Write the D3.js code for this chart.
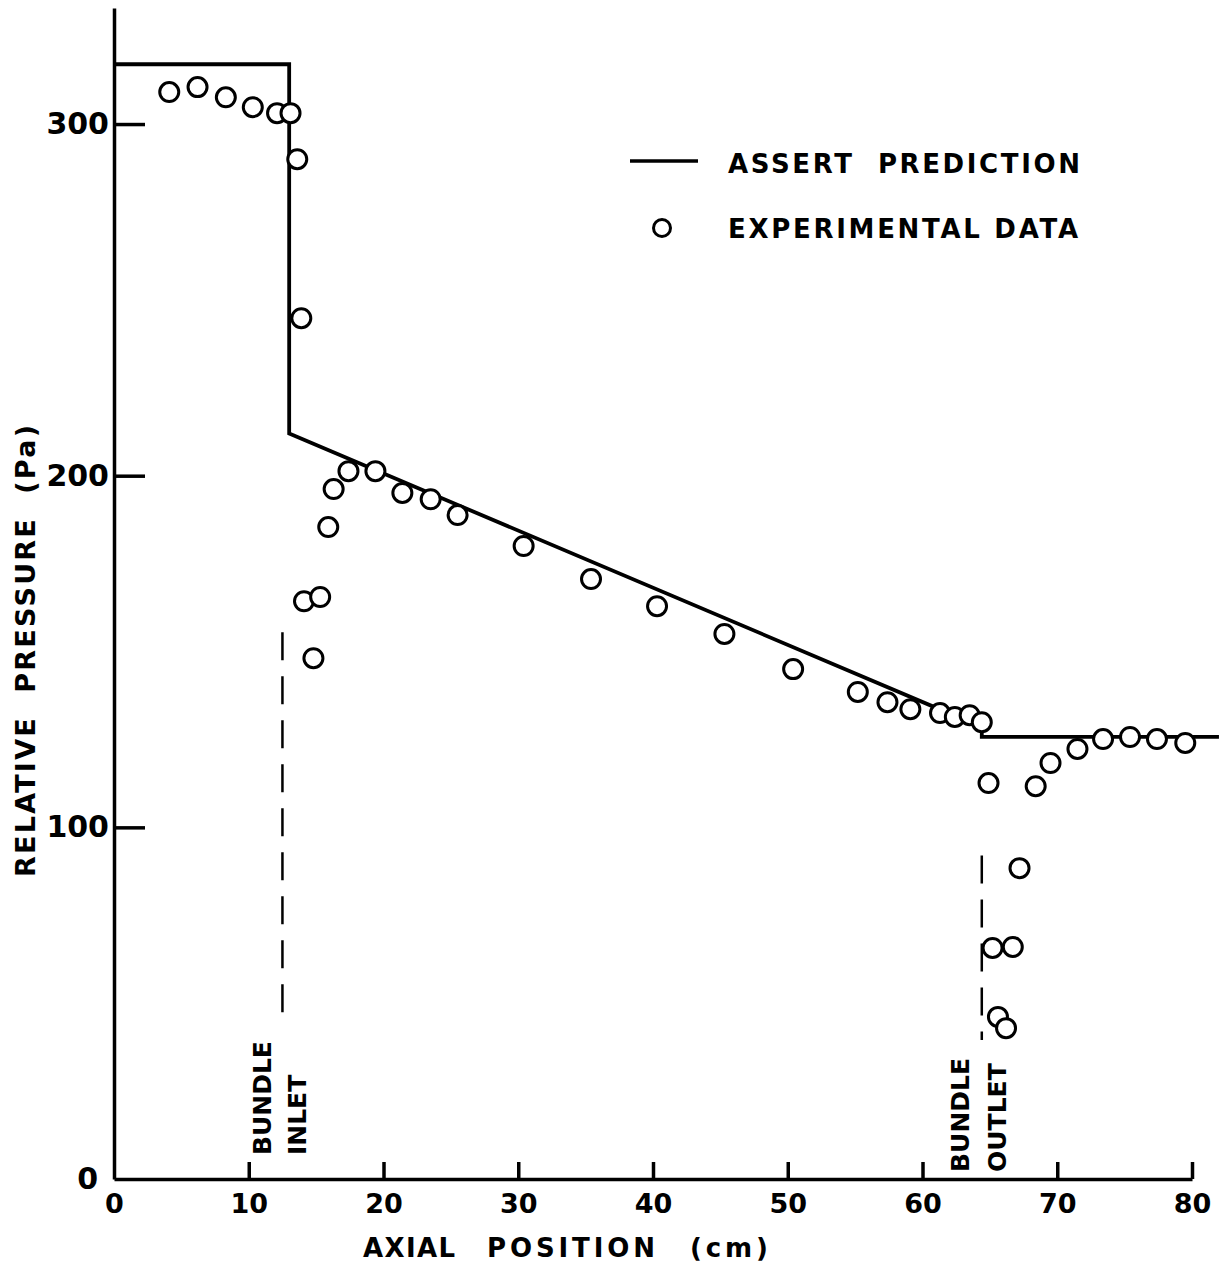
<!DOCTYPE html>
<html>
<head>
<meta charset="utf-8">
<script src="https://cdn.jsdelivr.net/npm/d3@7"></script>
<style>
  body { margin: 0; background: #fff; }
  text { font-family: "DejaVu Sans", sans-serif; font-weight: bold; fill: #000; }
</style>
</head>
<body>
<div id="chart"></div>
<script>
// ASSERT prediction (cm, Pa)
const predX = [0, 13, 13, 64.4, 64.4, 82]
const predY = [317, 317, 212, 128.5, 125.7, 125.7]

// experimental data (cm, Pa)
const expX = [4.1, 6.2, 8.3, 10.3, 12.1, 13.1, 13.6, 13.9,
  14.1, 14.8, 15.3, 15.9, 16.3, 17.4, 19.4, 21.4, 23.5, 25.5,
  30.4, 35.4, 40.3, 45.3, 50.4, 55.2, 57.4, 59.1, 61.3, 62.4, 63.5, 64.4,
  64.9, 65.2, 65.6, 66.2, 66.7, 67.2, 68.4, 69.5, 71.5, 73.4, 75.4, 77.4, 79.5]
const expY = [309.1, 310.5, 307.6, 304.8, 303.1, 303.1, 290.0, 244.8,
  164.3, 148.1, 165.5, 185.4, 196.2, 201.3, 201.3, 195.1, 193.3, 188.8,
  180.0, 170.6, 162.9, 155.0, 145.0, 138.5, 135.6, 133.6, 132.5, 131.4, 131.9, 129.9,
  112.6, 65.7, 46.1, 42.9, 66.0, 88.4, 111.7, 118.3, 122.3, 125.1, 125.7, 125.1, 124.0]

const xTicks = [0, 10, 20, 30, 40, 50, 60, 70, 80]
const yTicks = [0, 100, 200, 300]

// bundle inlet / outlet markers
const markX = [12.5, 64.4]
const markTop = [155.5, 92]
const markBottom = [43.2, 39.5]
const markLabels = [["BUNDLE", "INLET"], ["BUNDLE", "OUTLET"]]
const markLabelX = [[11.0, 13.6], [62.8, 65.5]]
const markLabelY = [6.8, 2]

const width = 1229, height = 1267

const svg = d3.select("#chart")
  .append("svg")
    .attr("width", width)
    .attr("height", height)

const x = d3.scaleLinear().domain([0, 80]).range([114, 1192])
const y = d3.scaleLinear().domain([0, 333]).range([1179, 8])

// x axis, ticks point up
const gx = svg.append("g")
  .attr("transform", `translate(0, ${y(0)})`)
  .call(d3.axisBottom(x).tickValues(xTicks).tickSizeInner(-17).tickSizeOuter(0).tickPadding(15))
gx.select(".domain").attr("stroke-width", 3.5)
gx.selectAll(".tick line").attr("stroke-width", 3.5)
gx.selectAll(".tick").filter(d => d == 0).select("line").remove()
gx.selectAll(".tick text").style("font-size", "27px")

// y axis, ticks point right
const gy = svg.append("g")
  .attr("transform", `translate(${x(0)}, 0)`)
  .call(d3.axisLeft(y).tickValues(yTicks).tickSizeInner(-31).tickSizeOuter(0).tickPadding(5))
gy.select(".domain").attr("stroke-width", 3.5)
gy.selectAll(".tick line").attr("stroke-width", 3.5)
gy.selectAll(".tick").filter(d => d == 0).select("line").remove()
gy.selectAll(".tick text").style("font-size", "30px")
gy.selectAll(".tick").filter(d => d == 0).select("text").attr("x", -16)

// prediction line
const line = d3.line().x(d => x(d[0])).y(d => y(d[1]))
svg.append("path")
  .datum(d3.zip(predX, predY))
  .attr("d", line)
  .attr("fill", "none")
  .attr("stroke", "#000")
  .attr("stroke-width", 3.8)
  .attr("stroke-linejoin", "miter")

// dashed inlet/outlet lines
svg.selectAll(".mark")
  .data(markX)
  .join("line")
    .attr("class", "mark")
    .attr("x1", d => x(d)).attr("x2", d => x(d))
    .attr("y1", (d, i) => y(markTop[i]))
    .attr("y2", (d, i) => y(markBottom[i]))
    .attr("stroke", "#000")
    .attr("stroke-width", 2.5)
    .attr("stroke-dasharray", "28,16")

markLabels.forEach((pair, i) => {
  pair.forEach((lab, j) => {
    const cx = x(markLabelX[i][j]) + 9
    const by = y(markLabelY[i])
    svg.append("text")
      .attr("transform", `translate(${cx}, ${by}) rotate(-90)`)
      .style("font-size", "25px")
      .text(lab)
  })
})

// experimental data
svg.selectAll(".pt")
  .data(d3.zip(expX, expY))
  .join("circle")
    .attr("class", "pt")
    .attr("cx", d => x(d[0]))
    .attr("cy", d => y(d[1]))
    .attr("r", 9.5)
    .attr("fill", "#fff")
    .attr("stroke", "#000")
    .attr("stroke-width", 3)

// legend
svg.append("line")
  .attr("x1", 630).attr("x2", 698)
  .attr("y1", 161).attr("y2", 161)
  .attr("stroke", "#000")
  .attr("stroke-width", 3.5)
svg.append("text")
  .attr("x", 728).attr("y", 173)
  .attr("textLength", 352).attr("lengthAdjust", "spacing")
  .style("font-size", "26px")
  .style("white-space", "pre")
  .text("ASSERT  PREDICTION")
svg.append("circle")
  .attr("cx", 662).attr("cy", 228).attr("r", 8.5)
  .attr("fill", "#fff").attr("stroke", "#000").attr("stroke-width", 3)
svg.append("text")
  .attr("x", 728).attr("y", 238)
  .attr("textLength", 350).attr("lengthAdjust", "spacing")
  .style("font-size", "26px")
  .text("EXPERIMENTAL DATA")

// axis titles
const xTitleWords = ["AXIAL", "POSITION", "(cm)"]
const xTitleStart = [363, 487, 690]
const xTitleLen = [92, 168, 78]
xTitleWords.forEach((w, i) => {
  svg.append("text")
    .attr("x", xTitleStart[i]).attr("y", 1257)
    .attr("textLength", xTitleLen[i]).attr("lengthAdjust", "spacing")
    .style("font-size", "26px")
    .text(w)
})
svg.append("text")
  .attr("transform", "translate(35, 877) rotate(-90)")
  .attr("textLength", 452).attr("lengthAdjust", "spacing")
  .style("font-size", "27px")
  .style("white-space", "pre")
  .text("RELATIVE  PRESSURE  (Pa)")
</script>
</body>
</html>
